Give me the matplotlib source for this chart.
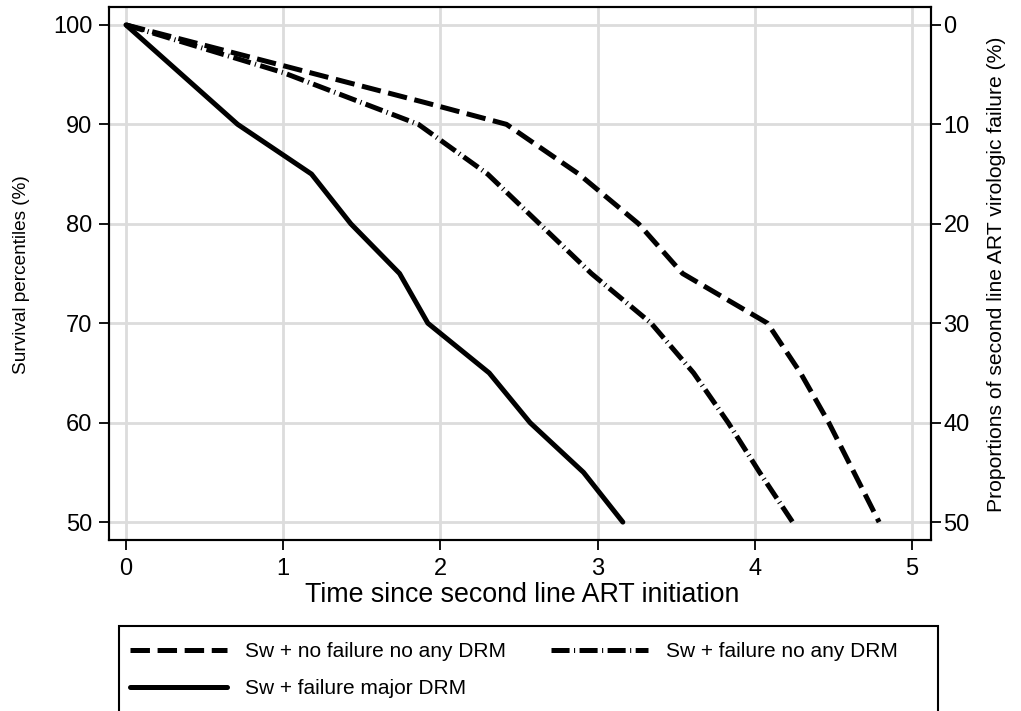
import matplotlib
matplotlib.use('Agg')
import matplotlib.pyplot as plt
from matplotlib.patches import Rectangle

# ===================== data =====================
x_no_fail = [0, 1.0, 1.9, 2.42, 2.88, 3.26, 3.54, 4.08, 4.29, 4.47, 4.79]
y_no_fail = [100, 95.9, 92.2, 90, 85, 80, 75, 70, 65, 60, 50]

x_fail_no_drm = [0, 1.0, 1.86, 2.30, 2.63, 2.96, 3.34, 3.61, 3.83, 4.03, 4.24]
y_fail_no_drm = [100, 95.2, 90, 85, 80, 75, 70, 65, 60, 55, 50]

x_fail_major = [0, 0.71, 1.18, 1.43, 1.74, 1.92, 2.31, 2.57, 2.91, 3.16]
y_fail_major = [100, 90, 85, 80, 75, 70, 65, 60, 55, 50]

labels = ['Sw + no failure no any DRM', 'Sw + failure no any DRM', 'Sw + failure major DRM']
x_ticks = [0, 1, 2, 3, 4, 5]
y_ticks = [50, 60, 70, 80, 90, 100]
right_ticks = [0, 10, 20, 30, 40, 50]

# ===================== style =====================
plt.rcParams['font.family'] = ['Liberation Sans', 'DejaVu Sans']
plt.rcParams['lines.scale_dashes'] = False

W, H = 1021, 711
fig = plt.figure(figsize=(W / 100, H / 100), dpi=100)
ax = fig.add_axes([109 / W, 1 - 540 / H, (931 - 109) / W, (540 - 7) / H])

lw = 3.6
l1, = ax.plot(x_no_fail, y_no_fail, color='black', lw=lw, dashes=(14, 5.5),
              solid_joinstyle='miter', dash_capstyle='butt', label=labels[0])
l2, = ax.plot(x_fail_no_drm, y_fail_no_drm, color='black', lw=lw, dashes=(13, 3.2, 0.8, 3.2),
              dash_capstyle='butt', label=labels[1])
l3, = ax.plot(x_fail_major, y_fail_major, color='black', lw=lw, solid_capstyle='round',
              solid_joinstyle='round', label=labels[2])

ax.set_xlim(-0.108, 5.12)
ax.set_ylim(48.2, 101.8)
ax.set_xticks(x_ticks)
ax.set_yticks(y_ticks)
ax.grid(True, color='#dcdcdc', lw=2)
ax.set_axisbelow(True)
for s in ax.spines.values():
    s.set_linewidth(1.5)
ax.tick_params(direction='out', length=7, width=1.3, labelsize=17)
ax.tick_params(axis='y', pad=5)
ax.tick_params(axis='x', pad=6)

# right axis: proportions failing = 100 - survival
ax2 = ax.twinx()
lo, hi = ax.get_ylim()
ax2.set_ylim(100 - lo, 100 - hi)
ax2.set_yticks(right_ticks)
ax2.tick_params(direction='out', length=7, width=1.3, labelsize=17, pad=2)
for s in ax2.spines.values():
    s.set_linewidth(1.5)

# axis titles
fig.text(522 / W, 1 - 602 / H, 'Time since second line ART initiation', fontsize=19.3,
         ha='center', va='baseline')
fig.text(22 / W, 1 - 275 / H, 'Survival percentiles (%)', fontsize=13.7,
         rotation=90, ha='center', va='center')
fig.text(996 / W, 1 - 274 / H, 'Proportions of second line ART virologic failure (%)',
         fontsize=15.2, rotation=90, ha='center', va='center')

# ===================== legend =====================
fig.patches.append(Rectangle((119 / W, -0.01), (938 - 119) / W, 1 - 626 / H + 0.01,
                             transform=fig.transFigure, fill=False, ec='black', lw=1.5))
fig.legend(handles=[l1, l3, l2], loc='upper left', bbox_to_anchor=(130 / W, 1 - 642 / H),
           ncol=2, frameon=False, fontsize=15, handlelength=4.65, handletextpad=0.85,
           columnspacing=2.2, labelspacing=0.88, borderaxespad=0, borderpad=0)

fig.savefig('out.png', dpi=100)
